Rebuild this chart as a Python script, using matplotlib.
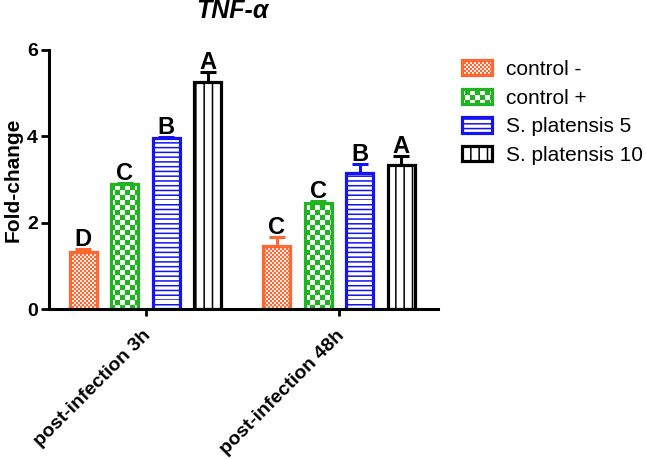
import warnings
import numpy as np
import matplotlib
matplotlib.use("Agg")
import matplotlib.pyplot as plt
import matplotlib.hatch as mhatch
import matplotlib.transforms as mtransforms
from matplotlib.path import Path

warnings.filterwarnings("ignore")

# ---------------- data ----------------
groups = ["post-infection 3h", "post-infection 48h"]
series_names = ["control -", "control +", "S. platensis 5", "S. platensis 10"]

control_neg = [1.32, 1.47]
control_neg_err = [0.07, 0.19]
control_pos = [2.89, 2.46]
control_pos_err = [0.03, 0.04]
platensis5 = [3.96, 3.16]
platensis5_err = [0.03, 0.21]
platensis10 = [5.25, 3.33]
platensis10_err = [0.23, 0.22]

letters_neg = ["D", "C"]
letters_pos = ["C", "C"]
letters_p5 = ["B", "B"]
letters_p10 = ["A", "A"]

title = "TNF-\u03b1"
ylabel = "Fold-change"
yticks = [0, 2, 4, 6]


# ---------------- custom hatches ----------------
class CheckerHatch(mhatch.HatchPatternBase):
    def __init__(self, hatch, density):
        self.n = hatch.count("k") * 10
        self.num_vertices = (self.n * self.n // 2) * 5

    def set_vertices_and_codes(self, vertices, codes):
        n = self.n
        s = 1.0 / n
        sh = 0.007
        k = 0
        for i in range(n):
            for j in range(n):
                if (i + j) % 2 == 0:
                    x0, y0 = i * s + sh, j * s + sh
                    x1, y1 = (i + 1) * s - sh, (j + 1) * s - sh
                    vertices[k:k + 5] = [[x0, y0], [x1, y0], [x1, y1], [x0, y1], [x0, y0]]
                    codes[k:k + 5] = [Path.MOVETO, Path.LINETO, Path.LINETO,
                                      Path.LINETO, Path.CLOSEPOLY]
                    k += 5


class HLinesHatch(mhatch.HatchPatternBase):
    def __init__(self, hatch, density):
        self.num_lines = hatch.count("h") * 7
        self.num_vertices = self.num_lines * 2

    def set_vertices_and_codes(self, vertices, codes):
        steps = np.linspace(0, 1, self.num_lines, endpoint=False)
        vertices[0::2, 0] = 0.0
        vertices[0::2, 1] = steps
        vertices[1::2, 0] = 1.0
        vertices[1::2, 1] = steps
        codes[0::2] = Path.MOVETO
        codes[1::2] = Path.LINETO


mhatch._hatch_types.extend([CheckerHatch, HLinesHatch])

plt.rcParams["font.family"] = ["Liberation Sans", "DejaVu Sans"]
plt.rcParams["hatch.linewidth"] = 1.1

fig = plt.figure(figsize=(6.46, 4.59), dpi=100)
ax = fig.add_axes([49 / 646, 1 - 309 / 459, (438 - 49) / 646, (309 - 50) / 459])

x = np.arange(len(groups))
offsets = np.array([-1.5, -0.5, 0.5, 1.5]) * 0.2145
width = 0.142

vals = [control_neg, control_pos, platensis5, platensis10]
errs = [control_neg_err, control_pos_err, platensis5_err, platensis10_err]
lets = [letters_neg, letters_pos, letters_p5, letters_p10]
colors = ["#FF6630", "#22B322", "#1414F0", "#000000"]
hatches = ["kkkkk", "kk", "hhh", "||"]

for i in range(4):
    xs = x + offsets[i]
    ax.errorbar(xs, vals[i], yerr=[np.zeros(len(groups)), errs[i]], fmt="none",
                ecolor=colors[i], elinewidth=2.2, capsize=6, capthick=2.2, zorder=1)
    ax.bar(xs, vals[i], width=width, facecolor="white", edgecolor=colors[i],
           linewidth=2.3, hatch=hatches[i], label=series_names[i], zorder=2)
    for xi, v, e, L in zip(xs, vals[i], errs[i], lets[i]):
        ax.annotate(L, (xi, v + e), xytext=(0, 3), textcoords="offset pixels",
                    ha="center", va="baseline", fontsize=17, fontweight="bold")

ax.set_xlim(-0.4987, 1.5116)
ax.set_ylim(0, 6)
ax.set_yticks(yticks)
ax.set_yticklabels([str(t) for t in yticks], fontsize=14, fontweight="bold")
ax.set_xticks(x)
ax.set_xticklabels(groups, rotation=45, ha="right", va="center",
                   rotation_mode="anchor", fontsize=14, fontweight="bold")
ax.tick_params(axis="y", direction="out", length=6, width=2, pad=2)
ax.tick_params(axis="x", direction="out", length=5, width=2, pad=12)
shift = mtransforms.ScaledTranslation(3 / 100, 0, fig.dpi_scale_trans)
for tick in ax.xaxis.get_major_ticks():
    tick.label1.set_transform(tick.label1.get_transform() + shift)
for s in ["top", "right"]:
    ax.spines[s].set_visible(False)
for s in ["left", "bottom"]:
    ax.spines[s].set_linewidth(2.2)
ax.set_ylabel(ylabel, fontsize=15, fontweight="bold", labelpad=3)

fig.text(232 / 646, 1 - 18 / 459, title, ha="center", va="baseline",
         fontsize=18, fontweight="bold", fontstyle="italic")

fig.legend(loc="upper left", bbox_to_anchor=(462 / 646, 1 - 60 / 459),
           frameon=False, fontsize=15, handlelength=1.45, handleheight=0.75,
           handletextpad=0.65, labelspacing=0.46, borderpad=0, borderaxespad=0)

fig.savefig("out.png", dpi=100)
